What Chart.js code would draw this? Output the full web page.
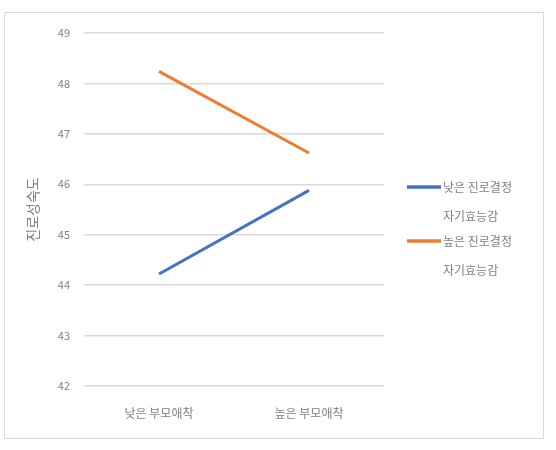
<!DOCTYPE html>
<html>
<head>
<meta charset="utf-8">
<script src="https://cdn.jsdelivr.net/npm/chart.js@4"></script>
<style>
  html, body { margin: 0; padding: 0; background: #fff; }
  #wrap { position: relative; width: 556px; height: 450px; }
  #box { position: absolute; left: 4px; top: 12px; width: 540px; height: 427px; border: 1px solid #d9d9d9; box-sizing: border-box; }
  canvas { position: absolute; left: 0; top: 0; }
</style>
</head>
<body>
<div id="wrap">
  <div id="box"></div>
  <canvas id="Line" width="556" height="450"></canvas>
</div>
<script>
// 데이터
const categories = ['낮은 부모애착', '높은 부모애착']
const lowEfficacy = [44.22, 45.88]
const highEfficacy = [48.24, 46.62]
const seriesNames = [['낮은 진로결정', '자기효능감'], ['높은 진로결정', '자기효능감']]
const yTicks = [42, 43, 44, 45, 46, 47, 48, 49]
const yTitle = '진로성숙도'

const fontFamily = "'Noto Sans CJK KR', 'Noto Sans', sans-serif"
const textColor = '#808080'

// 오른쪽 범례 (두 줄짜리 이름)
const legendRight = {
    id: 'legendRight',
    afterDraw(chart) {
        const ctx = chart.ctx
        const rows = [187, 241]
        ctx.save()
        ctx.font = '12px ' + fontFamily
        ctx.fillStyle = textColor
        ctx.textBaseline = 'middle'
        chart.data.datasets.forEach((ds, i) => {
            const y = rows[i]
            ctx.strokeStyle = ds.borderColor
            ctx.lineWidth = 3.5
            ctx.beginPath()
            ctx.moveTo(407, y)
            ctx.lineTo(441, y)
            ctx.stroke()
            seriesNames[i].forEach((t, j) => {
                ctx.fillText(t, 443, y + j * 29)
            })
        })
        ctx.restore()
    }
}

new Chart(document.getElementById('Line'), {
    type: 'line',
    data: {
        labels: categories,
        datasets: [
            { label: '낮은 진로결정 자기효능감', data: lowEfficacy, borderColor: '#4472C4', borderWidth: 3, pointRadius: 0, tension: 0 },
            { label: '높은 진로결정 자기효능감', data: highEfficacy, borderColor: '#ED7D31', borderWidth: 3, pointRadius: 0, tension: 0 }
        ]
    },
    options: {
        responsive: false,
        animation: false,
        layout: { padding: { top: 33, right: 172, bottom: 24, left: 0 } },
        plugins: { legend: { display: false }, tooltip: { enabled: false } },
        scales: {
            x: {
                offset: true,
                grid: { display: false, drawTicks: false },
                border: { display: false },
                ticks: { color: textColor, font: { family: fontFamily, size: 12 }, padding: 20 },
                afterFit: s => { s.height = 40 }
            },
            y: {
                min: yTicks[0],
                max: yTicks[yTicks.length - 1],
                afterBuildTicks: s => { s.ticks = yTicks.map(v => ({ value: v })) },
                grid: { color: '#d9d9d9', lineWidth: 1.5, drawTicks: false },
                border: { display: false },
                ticks: { color: textColor, font: { family: fontFamily, size: 11 }, padding: 14 },
                title: { display: true, text: yTitle, color: textColor, font: { family: fontFamily, size: 14 }, padding: { top: 24, bottom: 0 } },
                afterFit: s => { s.width = 84 }
            }
        }
    },
    plugins: [legendRight]
})
</script>
</body>
</html>
